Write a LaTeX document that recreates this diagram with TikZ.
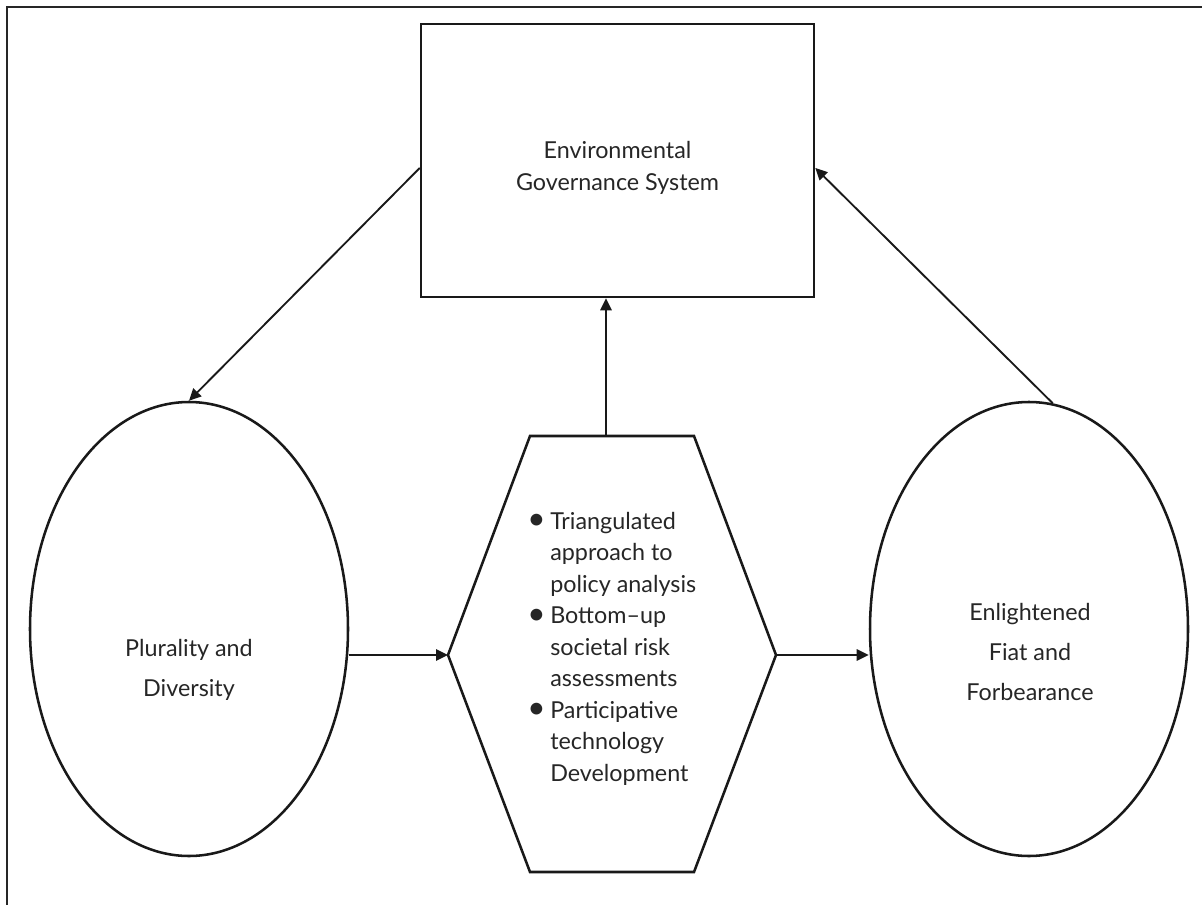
\documentclass[tikz,border=0pt]{standalone}
\usepackage{fontspec}
\setmainfont{Lato}
\usetikzlibrary{shapes.geometric,arrows.meta}
\begin{document}
\begin{tikzpicture}[x=0.75pt,y=-0.75pt,
  shapeline/.style={draw=black!90,line width=1.9pt},
  conn/.style={draw=black!90,line width=1.4pt,-{Triangle[length=9pt,width=8.5pt]}},
  lbl/.style={align=center,inner sep=0pt,font=\fontsize{17.5}{24.5}\selectfont,text=black!85},
  oval/.style={shapeline,ellipse,minimum width=238.5pt,minimum height=340.5pt,inner sep=0pt}]
\useasboundingbox (0,0) rectangle (1202,905);
% frame (top and left only)
\coordinate (fTL) at (7,7);
\coordinate (fTR) at (1202,7);
\coordinate (fBL) at (7,905);
\draw[black!85,line width=1.7pt] (fTR) -- (fTL) -- (fBL);
% governance box
\node[shapeline,minimum width=294.75pt,minimum height=204.75pt,inner sep=0pt] (gov) at (617.5,160.5) {};
\node[lbl] (govt) at (617.5,168) {Environmental\\Governance System};
% ellipses
\node[oval] (lell) at (189,629) {};
\node[lbl,font=\fontsize{17.5}{30}\selectfont] (lellt) at (189,670) {Plurality and\\Diversity};
\node[oval] (rell) at (1029,629) {};
\node[lbl,font=\fontsize{17.5}{30}\selectfont] (rellt) at (1030,652) {Enlightened\\Fiat and\\Forbearance};
% hexagon
\coordinate (hTL) at (530,436);
\coordinate (hTR) at (694,436);
\coordinate (hR) at (776,655);
\coordinate (hBR) at (694,872);
\coordinate (hBL) at (530,872);
\coordinate (hL) at (448,655);
\coordinate (hT) at (606,436);
\draw[shapeline,line join=miter] (hTL) -- (hTR) -- (hR) -- (hBR) -- (hBL) -- (hL) -- cycle;
\newcommand{\blt}{\makebox[17.25pt][l]{\raisebox{-0.5pt}{\scalebox{1.35}{•}}}}
\newcommand{\ind}{\hspace*{17.25pt}}
\node[inner sep=0pt,align=left,anchor=base west,font=\fontsize{17.5}{23.6}\selectfont,text=black!85] (hext) at (527,781)
{\blt Triangulated\\
\ind approach to\\
\ind policy analysis\\
\blt Bottom–up\\
\ind societal risk\\
\ind assessments\\
\blt Participative\\
\ind technology\\
\ind Development};
% connectors
\draw[conn] (hT) -- (gov.south -| hT);
\draw[conn] (lell.east |- hL) -- (hL);
\draw[conn] (hR) -- (rell.west |- hR);
\draw[conn] ([yshift=-5.6pt]gov.west) -- (lell.north);
\draw[conn] (rell.84) -- ([yshift=-5.6pt]gov.east);
\end{tikzpicture}
\end{document}
